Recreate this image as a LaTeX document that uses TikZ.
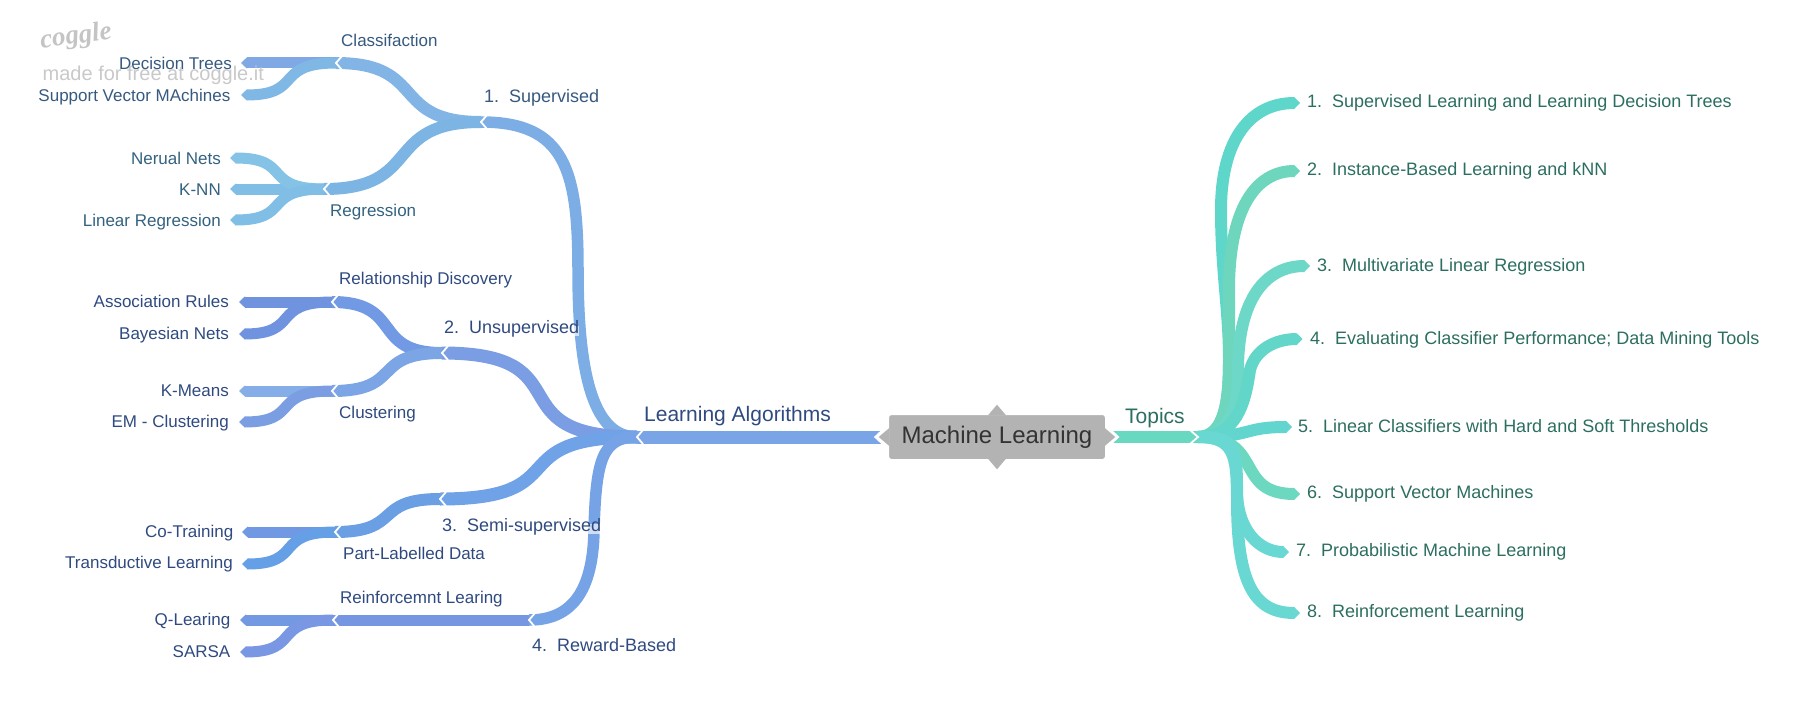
\documentclass[tikz,border=0pt]{standalone}
\usepackage{fontspec}
\setmainfont{Liberation Sans}
\newfontfamily\logofont{Liberation Serif}
\usetikzlibrary{arrows.meta}
\tikzset{
  band/.style={line width=#1, line cap=butt, line join=round},
  leafband/.style={line width=11pt, line cap=butt, -{Triangle[length=6pt,width=11pt]}},
  topicband/.style={line width=12pt, line cap=butt, -{Triangle[length=6pt,width=12pt]}},
  chev/.style={draw=white, line width=1.8pt, line join=miter},
  lab/.style={inner sep=0pt, text height=0.72em, text depth=0.2em, yshift=-4pt},
  labE/.style={lab, anchor=east},
  labW/.style={lab, anchor=west},
  small/.style={font=\fontsize{17}{20}\selectfont},
  mid/.style={font=\fontsize{18}{21}\selectfont},
  big/.style={font=\fontsize{21}{24}\selectfont},
  halo/.style={fill=white, fill opacity=0.65, text opacity=1},
  centrebox/.style={minimum width=217pt, minimum height=45pt, inner sep=0pt},
}
\definecolor{tSup}{HTML}{36597F}
\definecolor{tReg}{HTML}{336280}
\definecolor{tUns}{HTML}{2F4A80}
\definecolor{tRight}{HTML}{2C6E60}
\definecolor{cMain}{HTML}{79A4E6}
\definecolor{cSup}{HTML}{7DADE5}
\definecolor{cCla}{HTML}{82B5E6}
\definecolor{cDec}{HTML}{7FA8E5}
\definecolor{cSvm}{HTML}{80B8E5}
\definecolor{cReg}{HTML}{7CB5E3}
\definecolor{cNeu}{HTML}{85C3E6}
\definecolor{cKnn}{HTML}{80BEE6}
\definecolor{cUns}{HTML}{7B9DE3}
\definecolor{cRel}{HTML}{7299E3}
\definecolor{cAss}{HTML}{7093E0}
\definecolor{cClu}{HTML}{7BA5E4}
\definecolor{cKme}{HTML}{85ADE8}
\definecolor{cEmc}{HTML}{7B9EE3}
\definecolor{cSem}{HTML}{6FA2E6}
\definecolor{cPar}{HTML}{6A9FE4}
\definecolor{cCot}{HTML}{7199E3}
\definecolor{cTra}{HTML}{659FE6}
\definecolor{cRew}{HTML}{76A2E6}
\definecolor{cRei}{HTML}{7696E2}
\definecolor{cQle}{HTML}{7399E3}
\definecolor{cSar}{HTML}{7A97E3}
\definecolor{gA}{HTML}{5FD6CA}
\definecolor{gB}{HTML}{6DD6BD}
\definecolor{gC}{HTML}{6DD8C8}
\definecolor{gD}{HTML}{62D6C8}
\definecolor{gE}{HTML}{62D6CE}
\definecolor{gF}{HTML}{6DD8C0}
\definecolor{gG}{HTML}{6AD8D2}
\definecolor{gTop}{HTML}{68D8C0}
\definecolor{boxgrey}{HTML}{B3B3B3}
\definecolor{wm}{HTML}{C4C4C4}
\begin{document}
\begin{tikzpicture}[x=1pt,y=-1pt]
\useasboundingbox (0,0) rectangle (1800,709);
% junctions
\coordinate (lj) at (637,437);
\coordinate (tj) at (1198,437);
\coordinate (sup) at (481,122);
\coordinate (cla) at (336,63);
\coordinate (reg) at (324,189);
\coordinate (uns) at (442,353);
\coordinate (rel) at (332,302);
\coordinate (clu) at (332,391);
\coordinate (sem) at (440,499);
\coordinate (par) at (335,532);
\coordinate (rew) at (529,620);
\coordinate (rei) at (333,620);
% tips
\coordinate (tDec) at (241,63);
\coordinate (tSvm) at (241,95);
\coordinate (tNeu) at (230,158);
\coordinate (tKnn) at (230,189);
\coordinate (tLin) at (230,220);
\coordinate (tAss) at (239,302);
\coordinate (tBay) at (239,334);
\coordinate (tKme) at (239,391);
\coordinate (tEmc) at (239,422);
\coordinate (tCot) at (242,532);
\coordinate (tTra) at (242,564);
\coordinate (tQle) at (240,620);
\coordinate (tSar) at (240,652);
\coordinate (r1) at (1300,103);
\coordinate (r2) at (1300,171);
\coordinate (r3) at (1310,266);
\coordinate (r4) at (1302.5,339);
\coordinate (r5) at (1292,427);
\coordinate (r6) at (1300,494);
\coordinate (r7) at (1289,552);
\coordinate (r8) at (1300,613);
% waypoints
\coordinate (wSup) at (578,270);
\coordinate (wRew) at (594,530);
\coordinate (wA) at (1229,360);
\coordinate (wB) at (1221,210);
\coordinate (wC) at (1229,290);
\coordinate (wD) at (1238,370);
\coordinate (wE) at (1250,370);
\coordinate (wG) at (1237,490);
\coordinate (wH) at (1237,500);
% centre frame
\node[centrebox] (m) at (997,437) {};

% left: leaves
\draw[leafband,cDec] (cla) -- (tDec);
\draw[leafband,cSvm] (cla) .. controls +(-63,0) and +(63,0) .. (tSvm);
\draw[leafband,cKnn] (reg) -- (tKnn);
\draw[leafband,cNeu] (reg) .. controls +(-63,0) and +(63,0) .. (tNeu);
\draw[leafband,cKnn] (reg) .. controls +(-63,0) and +(63,0) .. (tLin);
\draw[leafband,cAss] (rel) -- (tAss);
\draw[leafband,cAss] (rel) .. controls +(-62,0) and +(62,0) .. (tBay);
\draw[leafband,cKme] (clu) -- (tKme);
\draw[leafband,cEmc] (clu) .. controls +(-62,0) and +(62,0) .. (tEmc);
\draw[leafband,cCot] (par) -- (tCot);
\draw[leafband,cTra] (par) .. controls +(-62,0) and +(62,0) .. (tTra);
\draw[leafband,cQle] (rei) -- (tQle);
\draw[leafband,cSar] (rei) .. controls +(-62,0) and +(62,0) .. (tSar);
% left: second level
\draw[band=12pt,cCla] (sup) .. controls +(-92,0) and +(92,0) .. (cla);
\draw[band=12pt,cReg] (sup) .. controls +(-100,0) and +(100,0) .. (reg);
\draw[band=12pt,cRel] (uns) .. controls +(-72,0) and +(72,0) .. (rel);
\draw[band=12pt,cClu] (uns) .. controls +(-72,0) and +(72,0) .. (clu);
\draw[band=12pt,cPar] (sem) .. controls +(-68,0) and +(68,0) .. (par);
\draw[band=11pt,cRei] (rew) -- (rei);
% left: first level
\draw[band=11.5pt,cSup] (lj) .. controls +(-42,0) and +(0,110) .. (wSup) .. controls +(0,-100) and +(84,0) .. (sup);
\draw[band=13pt,cUns] (lj) .. controls +(-145,0) and +(145,0) .. (uns);
\draw[band=13pt,cSem] (lj) .. controls +(-140,0) and +(140,0) .. (sem);
\draw[band=11.5pt,cRew] (lj) .. controls +(-35,0) and +(2,-70) .. (wRew) .. controls +(-1,70) and +(36,0) .. (rew);
\draw[band=13pt,cMain] (lj) -- ([xshift=-5.6pt]m.west);

% right
\draw[band=12pt,gTop] ([xshift=5pt]m.east) -- (tj);
\draw[topicband,gA] (tj) .. controls +(27,0) and +(0,40) .. (wA) .. controls +(0,-50) and +(0,60) .. (wB) .. controls +(0,-70) and +(-50,0) .. (r1);
\draw[topicband,gB] (tj) .. controls +(27,0) and +(0,40) .. (wA) .. controls +(0,-30) and +(0,30) .. (wC) .. controls +(0,-80) and +(-45,0) .. (r2);
\draw[topicband,gC] (tj) .. controls +(35,0) and +(0,30) .. (wD) .. controls +(0,-70) and +(-45,0) .. (r3);
\draw[topicband,gD] (tj) .. controls +(38,0) and +(-5,35) .. (wE) .. controls +(5,-20) and +(-28,0) .. (r4);
\draw[topicband,gE] (tj) .. controls +(55,0) and +(-50,0) .. (r5);
\draw[topicband,gF] (tj) .. controls +(67,0) and +(-67,0) .. (r6);
\draw[topicband,gG] (tj) .. controls +(36,0) and +(0,-45) .. (wG) .. controls +(0,40) and +(-30,0) .. (r7);
\draw[topicband,gG] (tj) .. controls +(36,0) and +(0,-45) .. (wH) .. controls +(0,85) and +(-45,0) .. (r8);

% centre
\fill[white] (m.west) ++(-13,0) -- ++(7.5,-7) -- ++(0,14) -- cycle;
\fill[white] (m.east) ++(12.5,0) -- ++(-7.5,-7) -- ++(0,14) -- cycle;
\node[centrebox, fill=boxgrey, draw=white, line width=1pt, rounded corners=3pt, text=black!80, font=\fontsize{24}{28}\selectfont] (mt) at (m.center) {Machine Learning};
\fill[boxgrey] (m.north) ++(-9,1) -- ++(9,-10.6) -- ++(9,10.6) -- cycle;
\fill[boxgrey] (m.south) ++(-9,-1) -- ++(9,10.6) -- ++(9,-10.6) -- cycle;
\fill[boxgrey] (m.west) ++(1,-9) -- ++(-10.6,9) -- ++(10.6,9) -- cycle;
\fill[boxgrey] (m.east) ++(-1,-9) -- ++(10.6,9) -- ++(-10.6,9) -- cycle;

% chevrons
\foreach \j in {lj,sup,cla,reg,uns,rel,clu,sem,par,rew,rei}
  \draw[chev] (\j) ++(6,-7) -- ++(-6,7) -- ++(6,7);
\draw[chev] (tj) ++(-8,-7) -- ++(8,7) -- ++(-8,7);
\draw[chev] (m.west) ++(-5.6,-7) -- ++(-7.5,7) -- ++(7.5,7);
\draw[chev] (m.east) ++(5,-7) -- ++(7.5,7) -- ++(-7.5,7);

% labels
\begin{scope}[text=tSup]
\node[labE,small] (nDec) at (232,63) {Decision Trees};
\node[labE,small] (nSvm) at (230.5,95) {Support Vector MAchines};
\node[labW,small] (nCla) at (341,40) {Classifaction};
\node[labW,mid] (nSup) at (484,96) {1.~~Supervised};
\end{scope}
\begin{scope}[text=tReg]
\node[labE,small] (nNeu) at (221,158) {Nerual Nets};
\node[labE,small] (nKnn) at (221,189) {K-NN};
\node[labE,small] (nLin) at (221,220) {Linear Regression};
\node[labW,small] (nReg) at (330,210) {Regression};
\end{scope}
\begin{scope}[text=tUns]
\node[labW,small] (nRel) at (339,278) {Relationship Discovery};
\node[labE,small] (nAss) at (229,301) {Association Rules};
\node[labE,small] (nBay) at (229,332.5) {Bayesian Nets};
\node[labW,mid,halo] (nUns) at (444,327) {2.~~Unsupervised};
\node[labE,small] (nKme) at (229,390) {K-Means};
\node[labE,small] (nEmc) at (229,421) {EM - Clustering};
\node[labW,small] (nClu) at (339,412) {Clustering};
\node[labW,big] (nLa) at (644,415) {Learning Algorithms};
\node[labW,mid,halo] (nSem) at (442,525) {3.~~Semi-supervised};
\node[labE,small] (nCot) at (233.5,531) {Co-Training};
\node[labE,small] (nTra) at (233,562) {Transductive Learning};
\node[labW,small] (nPar) at (343,553) {Part-Labelled Data};
\node[labW,small] (nRei) at (340,597) {Reinforcemnt Learing};
\node[labE,small] (nQle) at (230.5,619) {Q-Learing};
\node[labE,small] (nSar) at (230.5,651) {SARSA};
\node[labW,mid] (nRew) at (532,645) {4.~~Reward-Based};
\end{scope}
\begin{scope}[text=tRight]
\node[labW,big] (nTop) at (1125,417) {Topics};
\node[labW,mid] (n1) at (1307,101) {1.~~Supervised Learning and Learning Decision Trees};
\node[labW,mid] (n2) at (1307,169) {2.~~Instance-Based Learning and kNN};
\node[labW,mid] (n3) at (1317,265) {3.~~Multivariate Linear Regression};
\node[labW,mid] (n4) at (1310,338) {4.~~Evaluating Classifier Performance; Data Mining Tools};
\node[labW,mid] (n5) at (1298,426) {5.~~Linear Classifiers with Hard and Soft Thresholds};
\node[labW,mid] (n6) at (1307,492) {6.~~Support Vector Machines};
\node[labW,mid] (n7) at (1296,550) {7.~~Probabilistic Machine Learning};
\node[labW,mid] (n8) at (1307,611) {8.~~Reinforcement Learning};
\end{scope}
% watermark
\node[inner sep=0pt, rotate=8, text=wm, font=\logofont\itshape\bfseries\fontsize{27}{30}\selectfont] (logo) at (76,37) {coggle};
\node[labW, text=wm, text opacity=0.92, font=\fontsize{20}{24}\selectfont] (made) at (42.5,74) {made for free at coggle.it};
\end{tikzpicture}
\end{document}
